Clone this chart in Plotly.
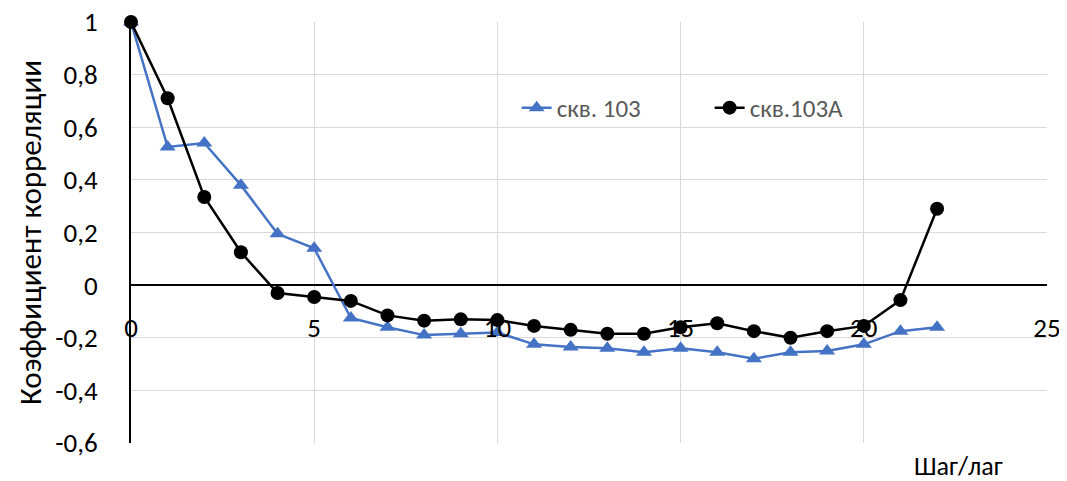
import plotly.graph_objects as go

lags = list(range(23))
skv103 = [1.0, 0.525, 0.54, 0.38, 0.195, 0.14, -0.125, -0.16, -0.19, -0.185, -0.18,
          -0.225, -0.235, -0.24, -0.255, -0.24, -0.255, -0.28, -0.255, -0.25, -0.225,
          -0.175, -0.16]
skv103a = [1.0, 0.71, 0.335, 0.125, -0.03, -0.045, -0.06, -0.115, -0.135, -0.13, -0.133,
           -0.155, -0.17, -0.185, -0.185, -0.16, -0.145, -0.175, -0.2, -0.175, -0.155,
           -0.057, 0.29]
x_ticks = [0, 5, 10, 15, 20, 25]
y_ticks = [-0.6, -0.4, -0.2, 0, 0.2, 0.4, 0.6, 0.8, 1]
y_labels = ["-0,6", "-0,4", "-0,2", "0", "0,2", "0,4", "0,6", "0,8", "1"]

FONT = "Carlito, Calibri, 'Liberation Sans', Arial, sans-serif"

fig = go.Figure()
fig.add_trace(go.Scatter(
    x=lags, y=skv103, name="скв. 103", mode="lines+markers",
    line=dict(color="#4472C4", width=2.5),
    marker=dict(symbol="triangle-up", size=14, color="#4472C4"),
    cliponaxis=False))
fig.add_trace(go.Scatter(
    x=lags, y=skv103a, name="скв.103А", mode="lines+markers",
    line=dict(color="#000000", width=2.5),
    marker=dict(symbol="circle", size=14, color="#000000"),
    cliponaxis=False))

fig.update_layout(
    width=1059, height=473,
    margin=dict(l=123, r=20, t=14, b=38),
    paper_bgcolor="white", plot_bgcolor="white",
    separators=", ",
    font=dict(family=FONT, size=27, color="#000000"),
    showlegend=True,
    legend=dict(orientation="h", x=0.421, y=0.796, xanchor="left", yanchor="middle",
                bgcolor="rgba(0,0,0,0)", font=dict(size=25, color="#595959"),
                entrywidth=148),
    xaxis=dict(range=[0, 25], tickvals=x_ticks, ticktext=[str(v) for v in x_ticks],
               showgrid=True, gridcolor="#d9d9d9", gridwidth=1,
               zeroline=False, showline=False, automargin=False,
               anchor="free", position=0.375, ticklabeloverflow="allow",
               ticks="outside", ticklen=18, tickcolor="rgba(0,0,0,0)",
               tickfont=dict(size=27, color="#000000")),
    yaxis=dict(range=[-0.6, 1], tickvals=y_ticks, ticktext=y_labels,
               showgrid=True, gridcolor="#d9d9d9", gridwidth=1,
               zeroline=True, zerolinecolor="#000000", zerolinewidth=2,
               showline=True, linecolor="#000000", linewidth=2, automargin=False,
               ticklabeloverflow="allow",
               ticks="outside", ticklen=26, tickcolor="rgba(0,0,0,0)",
               tickfont=dict(size=27, color="#000000"),
               title=dict(text="Коэффициент корреляции", standoff=4,
                          font=dict(size=31, color="#000000"))),
)
fig.add_annotation(text="Шаг/лаг", xref="paper", yref="paper", x=0.903, y=-0.055,
                   xanchor="center", yanchor="middle", showarrow=False,
                   font=dict(size=26, color="#000000"))

fig.write_html("out.html")
